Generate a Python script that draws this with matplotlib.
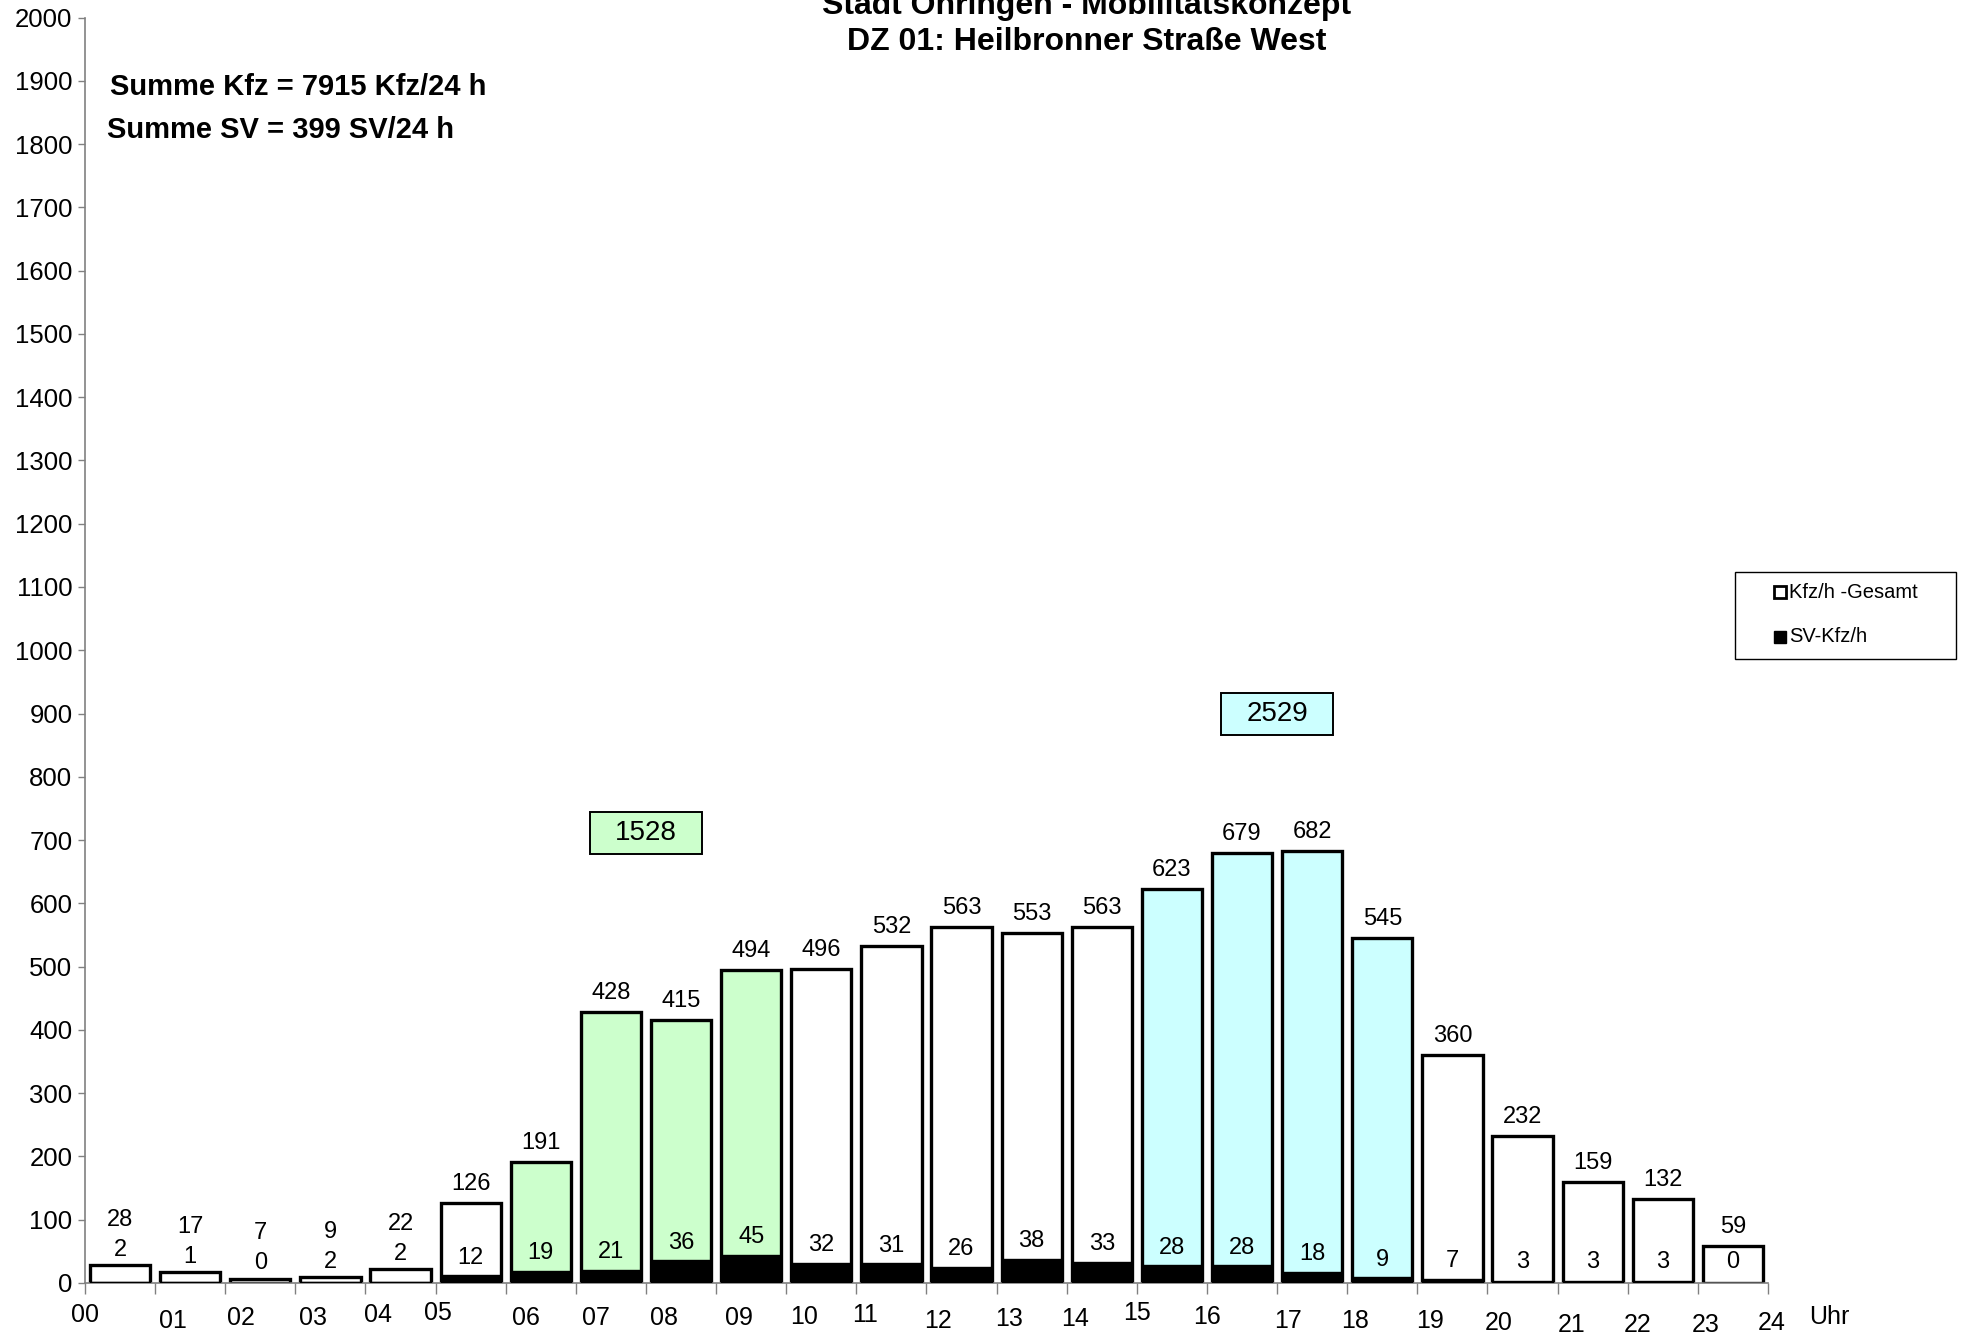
import matplotlib
matplotlib.use("Agg")
import matplotlib.pyplot as plt
from matplotlib.patches import Rectangle

plt.rcParams['font.family'] = ['Liberation Sans', 'DejaVu Sans']

hours = ["00", "01", "02", "03", "04", "05", "06", "07", "08", "09", "10", "11",
         "12", "13", "14", "15", "16", "17", "18", "19", "20", "21", "22", "23", "24"]
kfz_total = [28, 17, 7, 9, 22, 126, 191, 428, 415, 494, 496, 532,
             563, 553, 563, 623, 679, 682, 545, 360, 232, 159, 132, 59]
sv_kfz = [2, 1, 0, 2, 2, 12, 19, 21, 36, 45, 32, 31,
          26, 38, 33, 28, 28, 18, 9, 7, 3, 3, 3, 0]
morning_hours = [6, 7, 8, 9]
evening_hours = [15, 16, 17, 18]
title_lines = ["Stadt Öhringen - Mobilitätskonzept", "DZ 01: Heilbronner Straße West"]
legend_labels = ["Kfz/h -Gesamt", "SV-Kfz/h"]

sum_kfz = sum(kfz_total)
sum_sv = sum(sv_kfz)

GREEN = "#CCFFCC"
CYAN = "#CCFFFF"

W, H = 1961, 1335
fig = plt.figure(figsize=(W / 100, H / 100), dpi=100)
ax = fig.add_axes([85 / W, 1 - 1283 / H, (1768 - 85) / W, (1283 - 17.5) / H])

x = [h + 0.5 for h in range(24)]
colors = []
for h in range(24):
    if h in morning_hours:
        colors.append(GREEN)
    elif h in evening_hours:
        colors.append(CYAN)
    else:
        colors.append("white")

ax.bar(x, kfz_total, width=0.86, color=colors, edgecolor="black", linewidth=2.4, zorder=2)
ax.bar(x, sv_kfz, width=0.86, color="black", edgecolor="black", linewidth=1.0, zorder=3)

fs = 17
for xi, tot, sv in zip(x, kfz_total, sv_kfz):
    if tot < 40:
        sv_y = tot + 24
        tot_y = sv_y + 48
    else:
        sv_y = max(sv, 5) + 28
        tot_y = tot + 30
    ax.text(xi, sv_y, f"{sv}", ha="center", va="center", fontsize=fs, zorder=4)
    ax.text(xi, tot_y, f"{tot}", ha="center", va="center", fontsize=fs, zorder=4)

# period sums
for period, col in ((morning_hours, GREEN), (evening_hours, CYAN)):
    tot = sum(kfz_total[h] for h in period)
    cx = sum(period) / len(period) + 0.5
    cy = max(kfz_total[h] for h in period) + 217
    bw, bh = 1.6, 66
    ax.add_patch(Rectangle((cx - bw / 2, cy - bh / 2), bw, bh, facecolor=col,
                           edgecolor="black", linewidth=1.4, zorder=4))
    ax.text(cx, cy, f"{tot}", ha="center", va="center", fontsize=20, zorder=5)

ax.set_xlim(0, 24)
ax.set_ylim(0, 2000)
ax.set_yticks(range(0, 2001, 100))
ax.tick_params(axis="y", labelsize=18.5, length=5, width=1, color="#808080", pad=4)
ax.set_xticks(range(25))
ax.set_xticklabels([])
ax.tick_params(axis="x", length=8, width=1, color="#808080")
for s in ["top", "right"]:
    ax.spines[s].set_visible(False)
ax.spines["left"].set_color("#808080")
ax.spines["bottom"].set_color("#808080")
ax.spines["left"].set_linewidth(1.2)
ax.spines["bottom"].set_linewidth(1.2)

# staggered hour labels (offsets in hours / shrunk pixels)
dx = [0.0, 0.25, 0.23, 0.25, 0.18, 0.04, 0.29, 0.29, 0.25, 0.32, 0.25, 0.12,
      0.16, 0.18, 0.12, 0.0, 0.0, 0.16, 0.11, 0.18, 0.16, 0.2, 0.14, 0.11, 0.05]
dy = [26, 30, 28, 28, 26, 24, 28, 28, 28, 28, 27, 26,
      30, 29, 29, 24, 27, 30, 30, 30, 32, 34, 34, 34, 32]
for i, lab in enumerate(hours):
    ax.annotate(lab, xy=(i + dx[i], 0), xytext=(0, -dy[i] * 0.9), textcoords="offset points",
                ha="center", va="center", fontsize=18, annotation_clip=False)
ax.annotate("Uhr", xy=(24.87, 0), xytext=(0, -27 * 0.9), textcoords="offset points",
            ha="center", va="center", fontsize=18, annotation_clip=False)

# titles
fig.text(1087 / W, 1 - 4 / H, title_lines[0], ha="center", va="center",
         fontsize=23, fontweight="bold")
fig.text(1087 / W, 1 - 42 / H, title_lines[1], ha="center", va="center",
         fontsize=23, fontweight="bold")

fig.text(110 / W, 1 - 87 / H, f"Summe Kfz = {sum_kfz} Kfz/24 h", ha="left", va="center",
         fontsize=21, fontweight="bold")
fig.text(107 / W, 1 - 130 / H, f"Summe SV = {sum_sv} SV/24 h", ha="left", va="center",
         fontsize=21, fontweight="bold")

# legend (drawn as a framed box with square keys)
lx0, ly0, lx1, ly1 = 1735, 572, 1956, 659
fig.patches.append(Rectangle((lx0 / W, 1 - ly1 / H), (lx1 - lx0) / W, (ly1 - ly0) / H,
                             transform=fig.transFigure, facecolor="white",
                             edgecolor="black", linewidth=1.0, zorder=5))
key_styles = [("white", 2.0), ("black", 1.0)]
for (fc, lw), lab, yy in zip(key_styles, legend_labels, (592, 637)):
    ks = 12
    fig.patches.append(Rectangle((1774 / W, 1 - (yy + ks / 2) / H), ks / W, ks / H,
                                 transform=fig.transFigure, facecolor=fc,
                                 edgecolor="black", linewidth=lw, zorder=6))
    fig.text(1789 / W, 1 - yy / H, lab, ha="left", va="center", fontsize=14.5, zorder=6)

fig.savefig("out.png", dpi=100)
